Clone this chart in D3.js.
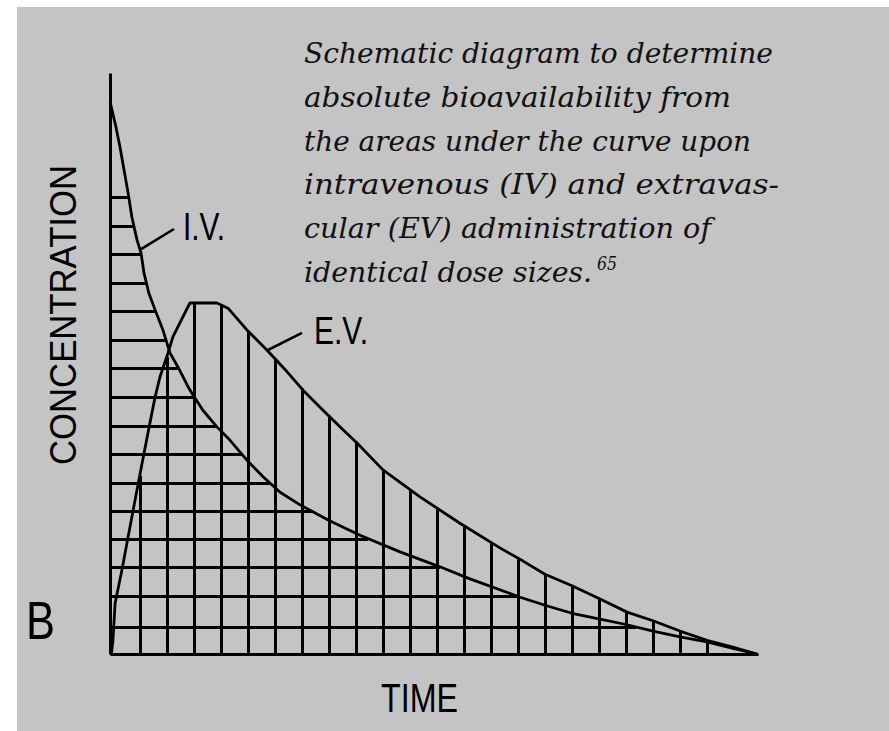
<!DOCTYPE html>
<html>
<head>
<meta charset="utf-8">
<script src="https://cdn.jsdelivr.net/npm/d3@7/dist/d3.min.js"></script>
<style>
  html, body { margin: 0; padding: 0; background: #ffffff; }
  svg { display: block; }
</style>
</head>
<body>
<script>
// Concentration–time profiles (time in arbitrary units, concentration in % of axis)
const ivTime = [0, 0.22, 0.37, 0.52, 0.67, 0.81, 1.0, 1.15, 1.26, 1.44, 1.67, 1.96, 2.22, 2.52, 2.89, 3.07, 3.44, 3.96, 4.44, 5.07, 5.67, 6.3, 7.04, 8.15, 9.26, 10.74, 12.22, 13.33, 14.44, 15.19, 16.11, 17.11, 18.15, 19.15, 20.11, 21.11, 22.11, 23.07, 23.96];
const ivConc = [96.3, 91.9, 88.4, 84.4, 80.4, 76.2, 72.2, 69.9, 66.4, 62.9, 60.0, 56.5, 52.5, 50.0, 46.6, 45.2, 42.5, 39.6, 37.3, 33.8, 30.9, 28.2, 26.0, 23.2, 20.7, 17.8, 15.2, 13.1, 11.2, 9.9, 8.5, 7.1, 6.1, 5.1, 4.0, 3.0, 2.1, 1.0, 0];

const evTime = [0.05, 0.11, 0.19, 0.44, 0.63, 0.81, 1.0, 1.19, 1.48, 1.67, 1.85, 2.15, 2.33, 2.7, 2.96, 3.96, 4.37, 5.07, 5.81, 6.56, 7.15, 7.89, 8.63, 9.15, 10.11, 11.48, 12.96, 14.44, 15.3, 16.11, 17.11, 18.15, 19.15, 20.11, 21.11, 22.11, 23.07, 23.96];
const evConc = [0, 2.4, 8.9, 14.6, 19.4, 23.9, 28.6, 33.3, 40.3, 44.8, 48.3, 52.5, 55.3, 58.8, 61.2, 61.2, 60.3, 56.5, 53.0, 49.2, 46.0, 42.5, 39.1, 36.8, 32.1, 27.4, 22.8, 18.5, 16.2, 13.9, 11.9, 9.6, 7.3, 5.8, 4.0, 2.4, 1.2, 0];

// Hatching: horizontal rulings under the I.V. curve, vertical rulings under the E.V. curve
const ivHatchLevels = [4.7, 10.1, 15.2, 20.1, 24.9, 29.8, 34.9, 39.8, 44.8, 49.9, 54.8, 59.8, 64.7, 69.8, 74.7, 79.7];
const evHatchTimes = [1.1, 2.1, 3.1, 4.1, 5.1, 6.1, 7.1, 8.1, 9.1, 10.1, 11.1, 12.1, 13.1, 14.1, 15.1, 16.1, 17.1, 18.1, 19.1, 20.1, 21.1, 22.1];

const captionLines = [
  "Schematic diagram to determine",
  "absolute bioavailability from",
  "the areas under the curve upon",
  "intravenous (IV) and extravas-",
  "cular (EV) administration of",
  "identical dose sizes."
];
const captionRef = "65";

const W = 889, H = 731;
const svg = d3.select("body").append("svg").attr("width", W).attr("height", H);

// panel background
svg.append("rect").attr("x", 17).attr("y", 7).attr("width", W - 17).attr("height", H - 7).attr("fill", "#c4c4c4");

const x = d3.scaleLinear().domain([0, 24]).range([110, 758]);
const y = d3.scaleLinear().domain([0, 101.3]).range([654, 73]);

const iv = ivTime.map((t, i) => ({ t, c: ivConc[i] }));
const ev = evTime.map((t, i) => ({ t, c: evConc[i] }));

// time at which the (decreasing) I.V. curve reaches a given concentration
function ivTimeAt(level) {
  for (let i = 0; i < iv.length - 1; i++) {
    const a = iv[i], b = iv[i + 1];
    if ((a.c - level) * (b.c - level) <= 0) {
      const f = (a.c === b.c) ? 0 : (a.c - level) / (a.c - b.c);
      return a.t + f * (b.t - a.t);
    }
  }
  return 0;
}
// E.V. concentration at a given time
function evConcAt(t) {
  for (let i = 0; i < ev.length - 1; i++) {
    const a = ev[i], b = ev[i + 1];
    if (t >= a.t && t <= b.t) {
      const f = (t - a.t) / (b.t - a.t);
      return a.c + f * (b.c - a.c);
    }
  }
  return 0;
}

const ink = "#000000";
const g = svg.append("g");

// horizontal hatch
g.append("g").selectAll("line").data(ivHatchLevels).join("line")
  .attr("x1", x(0)).attr("x2", d => x(ivTimeAt(d)))
  .attr("y1", d => Math.round(y(d)) + 0.5).attr("y2", d => Math.round(y(d)) + 0.5)
  .attr("stroke", ink).attr("stroke-width", 3);

// vertical hatch
g.append("g").selectAll("line").data(evHatchTimes).join("line")
  .attr("x1", d => Math.round(x(d)) + 0.5).attr("x2", d => Math.round(x(d)) + 0.5)
  .attr("y1", y(0)).attr("y2", d => y(evConcAt(d)))
  .attr("stroke", ink).attr("stroke-width", 3);

// curves
const line = d3.line().x(d => x(d.t)).y(d => y(d.c)).curve(d3.curveLinear);
g.append("path").datum(iv).attr("d", line).attr("fill", "none").attr("stroke", ink).attr("stroke-width", 2.8).attr("stroke-linejoin", "round");
g.append("path").datum(ev).attr("d", line).attr("fill", "none").attr("stroke", ink).attr("stroke-width", 2.8).attr("stroke-linejoin", "round");

// axes (domain lines only)
const xAxis = g.append("g").attr("transform", `translate(0,${y(0)})`)
  .call(d3.axisBottom(x).tickValues([]).tickSizeOuter(0));
const yAxis = g.append("g").attr("transform", `translate(${x(0)},0)`)
  .call(d3.axisLeft(y).tickValues([]).tickSizeOuter(0));
[xAxis, yAxis].forEach(a => a.select(".domain").attr("stroke", ink).attr("stroke-width", 3));

// curve labels with leader lines
const labelFont = "'Liberation Sans', Arial, Helvetica, sans-serif";
g.append("line").attr("x1", x(1.15)).attr("y1", y(70.6)).attr("x2", x(2.37)).attr("y2", y(74.1))
  .attr("stroke", ink).attr("stroke-width", 2.6);
g.append("line").attr("x1", x(5.85)).attr("y1", y(53.0)).attr("x2", x(7.11)).attr("y2", y(56.0))
  .attr("stroke", ink).attr("stroke-width", 2.6);

svg.append("text").attr("x", 183).attr("y", 240).attr("font-family", labelFont).attr("font-size", 38)
  .attr("textLength", 42).attr("lengthAdjust", "spacingAndGlyphs").attr("fill", ink).text("I.V.");
svg.append("text").attr("x", 314).attr("y", 344).attr("font-family", labelFont).attr("font-size", 38)
  .attr("textLength", 54).attr("lengthAdjust", "spacingAndGlyphs").attr("fill", ink).text("E.V.");

// axis titles
svg.append("text").attr("x", 381).attr("y", 712).attr("font-family", labelFont).attr("font-size", 40)
  .attr("textLength", 77).attr("lengthAdjust", "spacingAndGlyphs").attr("fill", ink).text("TIME");
svg.append("text").attr("transform", "translate(76,465) rotate(-90)").attr("font-family", labelFont).attr("font-size", 36)
  .attr("textLength", 300).attr("lengthAdjust", "spacingAndGlyphs").attr("fill", ink).text("CONCENTRATION");
svg.append("text").attr("x", 26).attr("y", 639).attr("font-family", labelFont).attr("font-size", 53)
  .attr("textLength", 29).attr("lengthAdjust", "spacingAndGlyphs").attr("fill", ink).text("B");

// caption
const capWidths = [469, 427, 447, 475, 407, 288];
const cap = svg.append("g").attr("font-family", "'DejaVu Serif', serif").attr("font-style", "italic")
  .attr("font-size", 27).attr("fill", "#111");
cap.selectAll("text").data(captionLines).join("text")
  .attr("x", 304).attr("y", (d, i) => 63 + i * 43.8)
  .attr("textLength", (d, i) => capWidths[i]).attr("lengthAdjust", "spacingAndGlyphs")
  .text(d => d);
cap.append("text").attr("x", 597).attr("y", 270).attr("font-size", 18)
  .attr("textLength", 20).attr("lengthAdjust", "spacingAndGlyphs").text(captionRef);
</script>
</body>
</html>
